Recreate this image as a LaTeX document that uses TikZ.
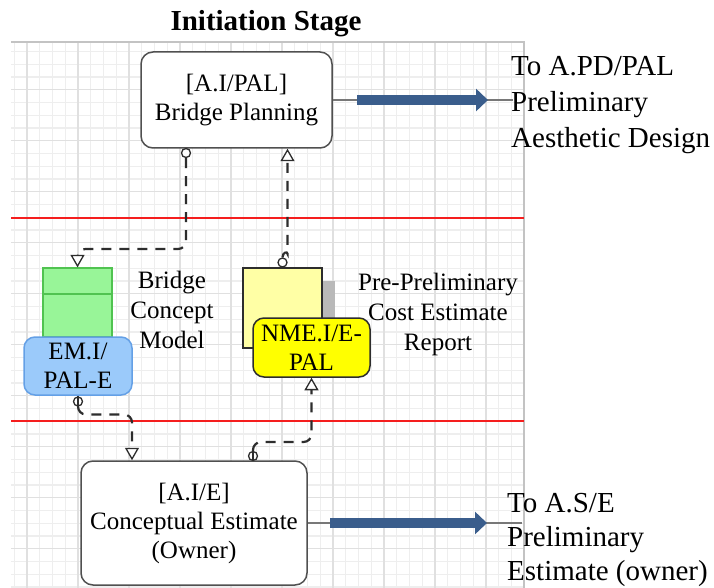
\documentclass[tikz,border=0pt]{standalone}
\usepackage{fontspec}
\IfFontExistsTF{LiberationSerif-Regular.ttf}
  {\setmainfont{LiberationSerif}[Extension=.ttf, UprightFont=*-Regular, BoldFont=*-Bold, ItalicFont=*-Italic, BoldItalicFont=*-BoldItalic]}
  {\setmainfont{Liberation Serif}}
\usetikzlibrary{arrows.meta}
\definecolor{gridminor}{RGB}{238,238,238}
\definecolor{gridmajor}{RGB}{224,224,224}
\definecolor{bordergray}{RGB}{195,195,195}
\definecolor{redline}{RGB}{245,30,30}
\definecolor{boxline}{RGB}{80,80,80}
\definecolor{arrowblue}{RGB}{58,93,140}
\definecolor{connline}{RGB}{120,120,120}
\definecolor{dashcol}{RGB}{45,45,45}
\definecolor{greenfill}{RGB}{152,245,152}
\definecolor{greenline}{RGB}{80,195,80}
\definecolor{bluefill}{RGB}{155,202,250}
\definecolor{blueline}{RGB}{100,160,230}
\definecolor{paleyellow}{RGB}{255,255,165}
\definecolor{tagyellow}{RGB}{255,255,0}
\definecolor{shadowgray}{RGB}{185,185,185}
\tikzset{
  procbox/.style={draw=boxline, line width=1.5pt, rounded corners=12pt, fill=white,
    align=center, inner sep=0pt, font=\fontsize{25}{29}\selectfont},
  tagbox/.style={line width=1.5pt, rounded corners=11pt, align=center, inner sep=0pt,
    font=\fontsize{25}{29}\selectfont},
  plainlabel/.style={align=center, inner sep=0pt, font=\fontsize{25}{30}\selectfont},
  sidelabel/.style={align=left, anchor=west, inner sep=0pt},
  circ/.style={circle, draw=dashcol, line width=1.3pt, fill=white, minimum size=9pt, inner sep=0pt},
  dashconn/.style={draw=dashcol, line width=2.2pt, dash pattern=on 10pt off 8pt, rounded corners=8pt,
    -{Triangle[length=12.5pt,width=14pt,fill=white,line width=1.3pt]}},
  thinconn/.style={draw=connline, line width=1.5pt},
  bluearrow/.style={draw=arrowblue, line width=10pt, -{Triangle[length=12pt,width=22pt]}}
}
\begin{document}
\begin{tikzpicture}[x=1pt,y=-1pt]
\useasboundingbox (0,0) rectangle (714,588);
\fill[white] (0,0) rectangle (714,588);
% grid
\begin{scope}
\clip (11,42) rectangle (524,588);
\foreach \k in {-5,...,35} \draw[gridminor, line width=1.2pt] ({78+12.75*\k},42) -- ({78+12.75*\k},588);
\foreach \k in {-11,...,31} \draw[gridminor, line width=1.2pt] (11,{191.7+12.75*\k}) -- (524,{191.7+12.75*\k});
\foreach \k in {-1,...,8} \draw[gridmajor, line width=1.4pt] ({78+51*\k},42) -- ({78+51*\k},588);
\foreach \k in {-2,...,7} \draw[gridmajor, line width=1.4pt] (11,{191.7+51*\k}) -- (524,{191.7+51*\k});
\end{scope}
\draw[bordergray, line width=1.2pt] (11,42) -- (524,42) -- (524,588);
% red stage lines
\draw[redline, line width=2pt] (11,217.5) -- (524,217.5);
\draw[redline, line width=2pt] (11,421) -- (524,421);

% title
\node[anchor=base, inner sep=0pt, font=\fontsize{29}{34}\selectfont\bfseries] (title) at (266,31) {Initiation Stage};

% process boxes
\node[procbox, minimum width=191pt, minimum height=96pt] (bp) at (236.5,100) {[A.I/PAL]\\Bridge Planning};
\node[procbox, minimum width=226pt, minimum height=124pt] (ce) at (194,523) {[A.I/E]\\Conceptual Estimate\\(Owner)};

% EM store + tag
\node[draw=greenline, fill=greenfill, line width=1.3pt, minimum width=69pt, minimum height=69pt, inner sep=0pt] (emstore) at (77.5,302.5) {};
\draw[greenline, line width=1.3pt] (emstore.west |- 0,294) -- (emstore.east |- 0,294);
\node[tagbox, draw=blueline, fill=bluefill, minimum width=108pt, minimum height=58pt] (emtag) at (78,366) {EM.I/\\PAL-E};

% NME document + tag
\node[fill=shadowgray, minimum width=79pt, minimum height=81pt, inner sep=0pt] (docshadow) at (295.5,321.5) {};
\node[draw=dashcol, fill=paleyellow, line width=1.3pt, minimum width=79pt, minimum height=80pt, inner sep=0pt] (doc) at (282.5,308) {};
\node[tagbox, draw=dashcol, fill=tagyellow, minimum width=117pt, minimum height=59pt] (nmetag) at (311.5,347.5) {NME.I/E-\\PAL};

% labels
\node[plainlabel] (bcm) at (172,309.5) {Bridge\\Concept\\Model};
\node[plainlabel] (pper) at (438,314) {Pre-Preliminary\\Cost Estimate\\Report};

% dashed connectors
\node[circ] (c1) at (186,153) {};
\draw[dashconn] (c1.south) -- (186,249) -- (emstore.north |- 0,249) -- (emstore.north);

\node[circ] (c2) at (282.5,262.5) {};
\draw[dashconn] (c2.north) to[out=90,in=-90] (287.5,246) -- (bp.south -| 287.5,0);

\node[circ] (c3) at (78,401.5) {};
\draw[dashcol, line width=1.5pt] (78,395.5) -- (78,408);
\draw[dashconn] (c3.south) -- (78,414.5) -- (132,414.5) -- (ce.north -| 132,0);

\node[circ] (c4) at (253,456) {};
\draw[dashcol, line width=1.5pt] (253,450) -- (253,461);
\draw[dashconn] (c4.north) -- (253,442) -- (311.5,442) -- (nmetag.south -| 311.5,0);

% outgoing arrows
\coordinate (out1) at (513,100);
\draw[thinconn] (bp.east) -- (out1);
\coordinate (a1s) at (357,100);
\coordinate (a1e) at (488,100);
\draw[bluearrow] (a1s) -- (a1e);

\coordinate (out2) at (522,523);
\draw[thinconn] (ce.east) -- (out2);
\coordinate (a2s) at (330,523);
\coordinate (a2e) at (487,523);
\draw[bluearrow] (a2s) -- (a2e);

\node[sidelabel, font=\fontsize{29}{36}\selectfont] (to1) at (511,104.7) {To A.PD/PAL\\Preliminary\\Aesthetic Design};
\node[sidelabel, font=\fontsize{29}{34}\selectfont] (to2) at (507,539.7) {To A.S/E\\Preliminary\\Estimate (owner)};
\end{tikzpicture}
\end{document}
